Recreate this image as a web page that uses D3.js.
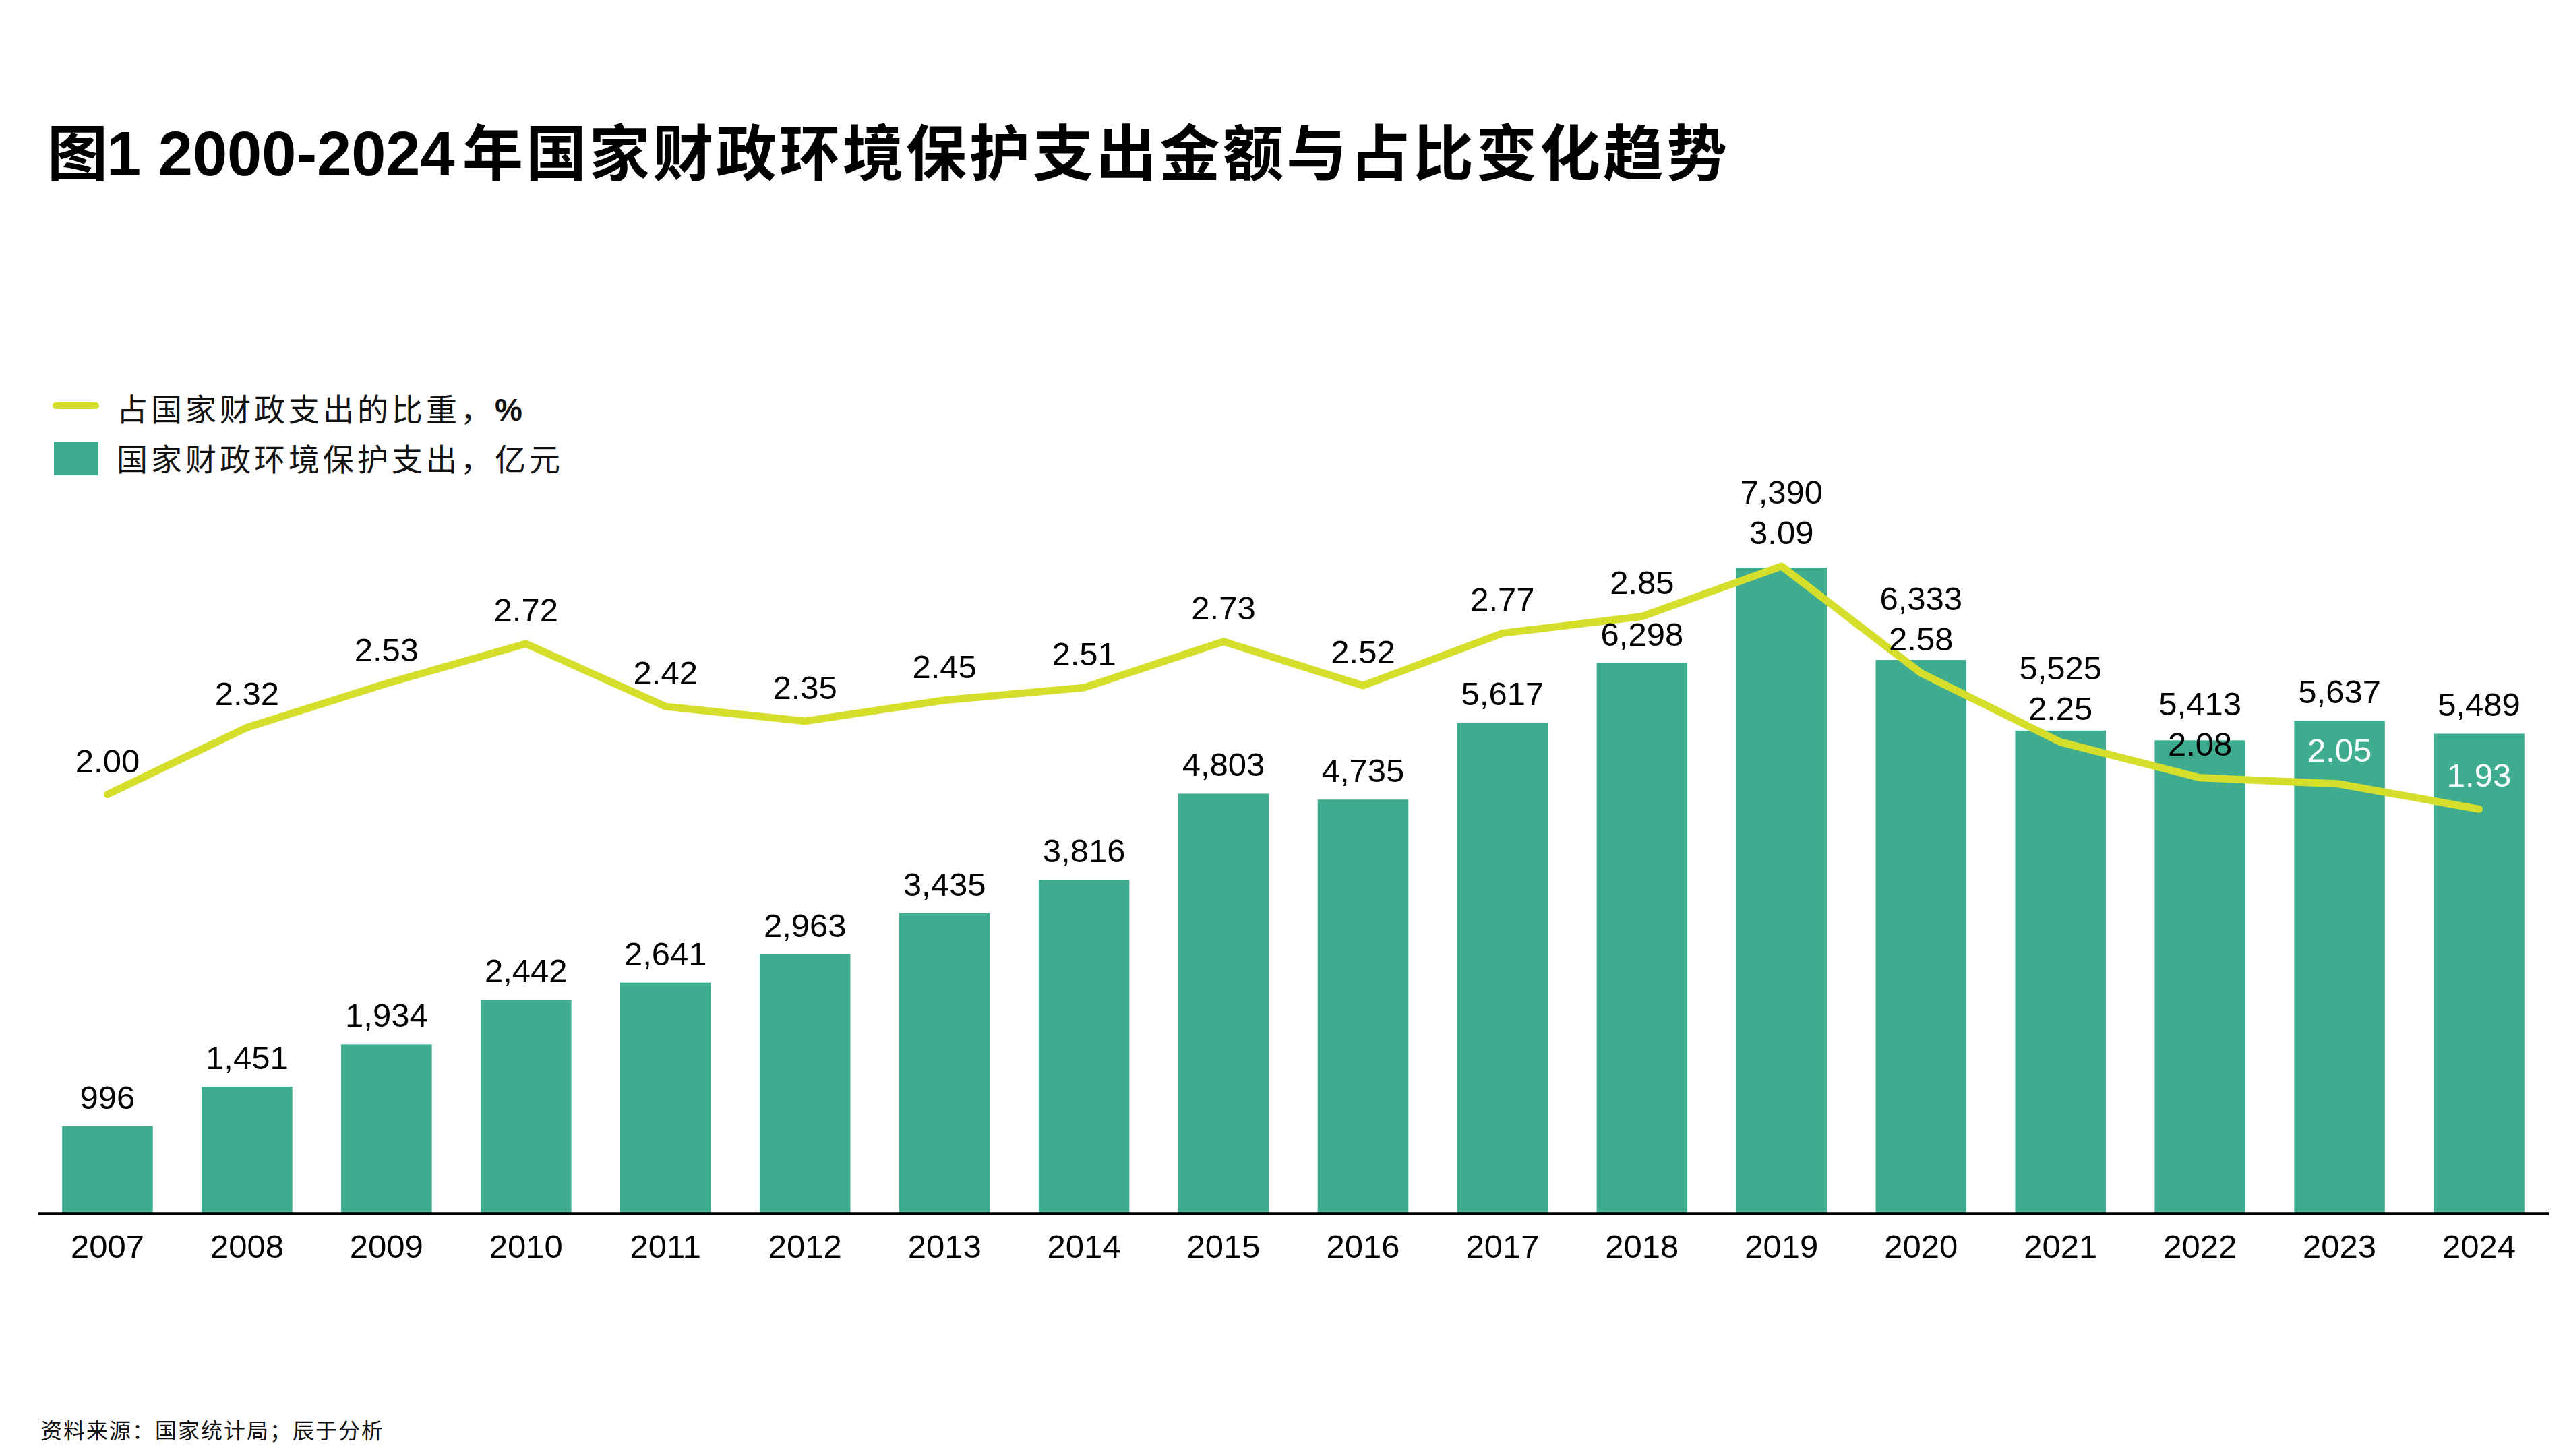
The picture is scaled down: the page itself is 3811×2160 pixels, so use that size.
<!DOCTYPE html>
<html>
<head>
<meta charset="utf-8">
<script src="https://cdn.jsdelivr.net/npm/d3@7"></script>
<style>
  html, body { margin: 0; padding: 0; background: #fff; }
  svg { display: block; }
</style>
</head>
<body>
<script>
// ---- data ----
const years = ["2007","2008","2009","2010","2011","2012","2013","2014","2015","2016","2017","2018","2019","2020","2021","2022","2023","2024"];
const spending = [996, 1451, 1934, 2442, 2641, 2963, 3435, 3816, 4803, 4735, 5617, 6298, 7390, 6333, 5525, 5413, 5637, 5489];
const share = [2.00, 2.32, 2.53, 2.72, 2.42, 2.35, 2.45, 2.51, 2.73, 2.52, 2.77, 2.85, 3.09, 2.58, 2.25, 2.08, 2.05, 1.93];
const titleParts = ["图", "1 2000-2024", "年国家财政环境保护支出金额与占比变化趋势"];
const legendLabels = ["占国家财政支出的比重，", "国家财政环境保护支出，亿元"];
const sourceText = "资料来源：国家统计局；辰于分析";

// ---- style ----
const W = 3811, H = 2160;
const barColor = "#3fac90";
const lineColor = "#d5df2b";
const CJK = "'Noto Sans CJK SC', 'Noto Sans', sans-serif";
const LAT = "'Liberation Sans', Arial, sans-serif";

const svg = d3.select("body").append("svg").attr("width", W).attr("height", H);

const x = d3.scaleBand().domain(years).range([56, 3781]).paddingInner(0.35).paddingOuter(0.175);
const y = d3.scaleLinear().domain([0, 8000]).range([1800, 763]);
const y2 = d3.scaleLinear().domain([0, 3.3376]).range([1800, 763]);

const rows = years.map((yr, i) => ({ yr, v: spending[i], p: share[i] }));

// title
const title = svg.append("text").attr("y", 260).attr("fill", "#000").attr("font-weight", "bold");
title.append("tspan").attr("x", 70).attr("font-family", CJK).attr("font-size", 90).text(titleParts[0]);
title.append("tspan").attr("x", 158).attr("font-family", LAT).attr("font-size", 92).text(titleParts[1]);
title.append("tspan").attr("x", 686).attr("font-family", CJK).attr("font-size", 90).attr("letter-spacing", 4).text(titleParts[2]);

// legend
svg.append("line").attr("x1", 83).attr("x2", 142).attr("y1", 602).attr("y2", 602)
  .attr("stroke", lineColor).attr("stroke-width", 10).attr("stroke-linecap", "round");
svg.append("rect").attr("x", 80).attr("y", 656).attr("width", 66).attr("height", 49).attr("fill", barColor);
const lg1 = svg.append("text").attr("x", 173).attr("y", 624).attr("font-size", 46).attr("fill", "#111");
lg1.append("tspan").attr("font-family", CJK).attr("letter-spacing", 5).text(legendLabels[0]);
lg1.append("tspan").attr("font-family", LAT).attr("font-weight", "bold").text("%");
svg.append("text").attr("x", 173).attr("y", 698).attr("font-size", 46).attr("fill", "#111")
  .attr("font-family", CJK).attr("letter-spacing", 5).text(legendLabels[1]);

// bars
svg.append("g").selectAll("rect").data(rows).join("rect")
  .attr("x", d => x(d.yr)).attr("width", x.bandwidth())
  .attr("y", d => y(d.v)).attr("height", d => y(0) - y(d.v))
  .attr("fill", barColor);

// axis
const axis = svg.append("g").attr("transform", "translate(0,1800)")
  .call(d3.axisBottom(x).tickSize(0).tickSizeOuter(0).tickPadding(31));
axis.select(".domain").attr("stroke", "#000").attr("stroke-width", 4.5);
axis.selectAll("text").attr("font-family", LAT).attr("font-size", 49).attr("fill", "#000");

// line
const line = d3.line().x(d => x(d.yr) + x.bandwidth() / 2).y(d => y2(d.p));
svg.append("path").datum(rows).attr("d", line).attr("fill", "none")
  .attr("stroke", lineColor).attr("stroke-width", 11)
  .attr("stroke-linecap", "round").attr("stroke-linejoin", "round");

// labels
const fmt = d3.format(",");
const labels = svg.append("g").attr("font-family", LAT).attr("font-size", 49).attr("text-anchor", "middle");
rows.forEach(d => {
  const cx = x(d.yr) + x.bandwidth() / 2;
  const pBase = y2(d.p) - 33;
  let bBase = y(d.v) - 26;
  if (Math.abs(bBase - pBase) < 60) bBase = pBase - 60;
  const inside = (pBase - 35) > y(d.v);
  labels.append("text").attr("x", cx).attr("y", bBase).attr("fill", "#000").text(fmt(d.v));
  labels.append("text").attr("x", cx).attr("y", pBase).attr("fill", inside ? "#fff" : "#000").text(d.p.toFixed(2));
});

// source
svg.append("text").attr("x", 60).attr("y", 2134).attr("font-family", CJK).attr("font-size", 32)
  .attr("letter-spacing", 2).attr("fill", "#111").text(sourceText);
</script>
</body>
</html>
